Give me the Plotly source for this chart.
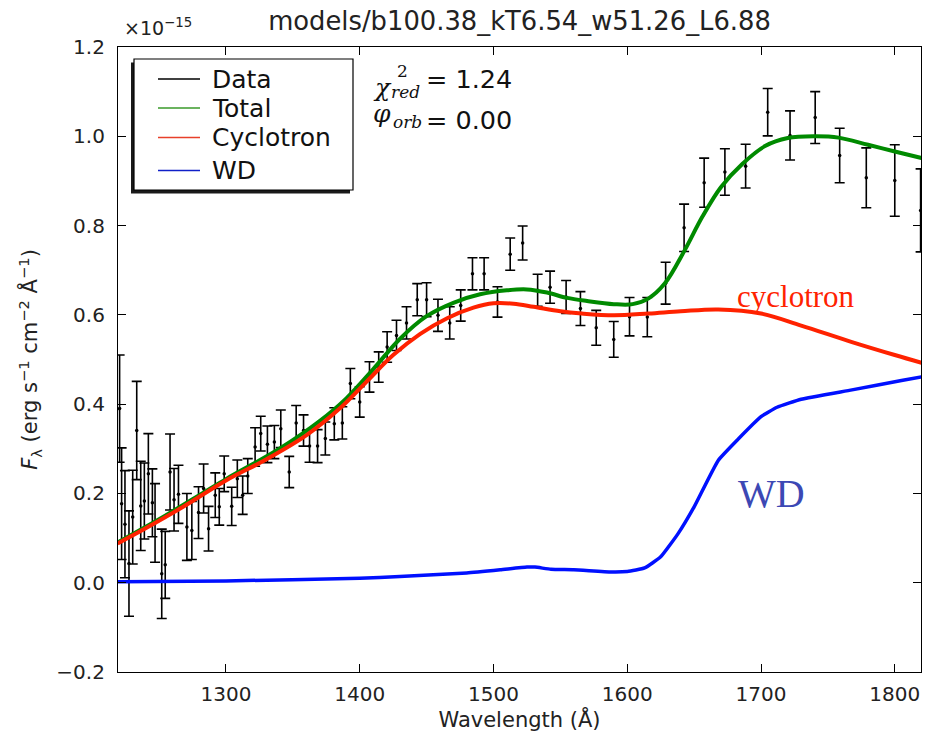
import plotly.graph_objects as go

# ---------------- data ----------------
wave = [1220.5, 1222.0, 1224.5, 1227.5, 1230.3, 1233.3, 1236.3, 1239.0, 1242.0, 1245.0,
        1247.0, 1252.0, 1254.6, 1258.2, 1261.2, 1264.5, 1270.8, 1274.5, 1279.5, 1283.3,
        1287.0, 1292.0, 1295.0, 1298.7, 1304.3, 1308.5, 1312.5, 1316.3, 1321.8, 1326.0,
        1331.0, 1336.2, 1341.0, 1347.3, 1352.5, 1358.0, 1362.5, 1368.5, 1374.3, 1381.0,
        1387.0, 1393.0, 1400.0, 1407.3, 1414.2, 1420.5, 1427.5, 1435.0, 1443.0, 1450.0,
        1458.5, 1467.3, 1475.5, 1484.3, 1493.0, 1503.0, 1512.5, 1521.8, 1533.0, 1542.3,
        1554.3, 1565.0, 1576.8, 1589.9, 1601.7, 1615.0, 1628.7, 1642.5, 1657.5, 1673.0,
        1688.5, 1705.0, 1721.7, 1740.5, 1758.8, 1778.7, 1800.0, 1819.3]
flux = [0.39, 0.177, 0.131, 0.043, 0.147, 0.341, 0.172, 0.183, 0.244, 0.179,
        0.134, 0.020, 0.040, 0.248, 0.186, 0.198, 0.125, 0.117, 0.157, 0.211,
        0.121, 0.196, 0.170, 0.244, 0.171, 0.233, 0.196, 0.239, 0.304, 0.334,
        0.310, 0.315, 0.345, 0.248, 0.358, 0.341, 0.306, 0.306, 0.323, 0.356,
        0.358, 0.446, 0.405, 0.461, 0.483, 0.528, 0.554, 0.582, 0.634, 0.634,
        0.599, 0.582, 0.621, 0.692, 0.692, 0.629, 0.736, 0.761, 0.655, 0.662,
        0.640, 0.614, 0.571, 0.545, 0.596, 0.595, 0.671, 0.795, 0.896, 0.920,
        0.933, 1.054, 1.002, 1.042, 0.957, 0.907, 0.901, 0.834]
flux_err = [0.12, 0.125, 0.12, 0.118, 0.105, 0.11, 0.10, 0.085, 0.09, 0.076,
            0.088, 0.10, 0.075, 0.085, 0.07, 0.065, 0.075, 0.065, 0.058, 0.055,
            0.05, 0.05, 0.041, 0.04, 0.043, 0.042, 0.043, 0.039, 0.043, 0.039,
            0.041, 0.037, 0.042, 0.035, 0.039, 0.035, 0.036, 0.037, 0.037, 0.036,
            0.036, 0.034, 0.034, 0.034, 0.034, 0.034, 0.034, 0.036, 0.036, 0.038,
            0.036, 0.036, 0.035, 0.036, 0.036, 0.034, 0.036, 0.038, 0.036, 0.036,
            0.037, 0.038, 0.039, 0.040, 0.043, 0.044, 0.047, 0.053, 0.055, 0.052,
            0.049, 0.053, 0.055, 0.058, 0.061, 0.067, 0.080, 0.093]

total_wave = [1219, 1250, 1300, 1340, 1370, 1390, 1410, 1430, 1450, 1470, 1490, 1510,
              1525, 1540, 1555, 1570, 1590, 1604, 1616, 1628, 1643, 1656, 1670, 1686,
              1703, 1720, 1740, 1758, 1780, 1800, 1822]
total_flux = [0.090, 0.142, 0.232, 0.300, 0.362, 0.413, 0.478, 0.546, 0.597, 0.627, 0.646, 0.655,
              0.657, 0.650, 0.638, 0.631, 0.624, 0.624, 0.637, 0.670, 0.745, 0.819, 0.886, 0.938,
              0.978, 0.996, 1.000, 0.997, 0.981, 0.966, 0.950]

cyc_wave = [1219, 1240, 1268, 1300, 1330, 1360, 1385, 1405, 1425, 1445, 1465, 1485, 1500,
            1515, 1530, 1550, 1566, 1590, 1616, 1640, 1668, 1700, 1730, 1768, 1800, 1822]
cyc_flux = [0.088, 0.122, 0.170, 0.229, 0.276, 0.330, 0.390, 0.450, 0.510, 0.557, 0.592, 0.616, 0.626,
            0.625, 0.618, 0.608, 0.603, 0.599, 0.603, 0.608, 0.612, 0.603, 0.576, 0.539, 0.510, 0.491]

wd_wave = [1219, 1300, 1400, 1430, 1480, 1505, 1525, 1531, 1543, 1560, 1588, 1600,
           1613, 1625, 1638, 1650, 1668, 1683, 1700, 1712, 1730, 1768, 1805, 1822]
wd_flux = [0.002, 0.004, 0.010, 0.014, 0.022, 0.029, 0.035, 0.035, 0.030, 0.029, 0.024, 0.025,
           0.033, 0.058, 0.110, 0.170, 0.274, 0.322, 0.372, 0.393, 0.411, 0.432, 0.453, 0.462]

legend_names = ["Data", "Total", "Cyclotron", "WD"]
legend_colors = ["black", "#3a9a2a", "#e8402a", "#1020c8"]

x_ticks = [1300, 1400, 1500, 1600, 1700, 1800]
y_ticks = [-0.2, 0.0, 0.2, 0.4, 0.6, 0.8, 1.0, 1.2]
y_tick_text = ["\u22120.2", "0.0", "0.2", "0.4", "0.6", "0.8", "1.0", "1.2"]

# ---------------- figure ----------------
W, H = 928, 732
L, R, T, B = 118, 7, 47, 60
PW, PH = W - L - R, H - T - B


def px_x(px):
    return (px - L) / PW


def px_y(py):
    return 1 - (py - T) / PH


GREEN = "#008a00"
RED = "#ff2200"
BLUE = "#0010ff"
FONT = "DejaVu Sans"

fig = go.Figure()

fig.add_trace(go.Scatter(
    x=wave, y=flux, mode="markers", name="Data", showlegend=False,
    marker=dict(color="black", size=3.5),
    error_y=dict(type="data", array=flux_err, color="black", thickness=1.6, width=5),
))
fig.add_trace(go.Scatter(x=total_wave, y=total_flux, mode="lines", name="Total", showlegend=False,
                         line=dict(color=GREEN, width=4, shape="spline", smoothing=1.0)))
fig.add_trace(go.Scatter(x=cyc_wave, y=cyc_flux, mode="lines", name="Cyclotron", showlegend=False,
                         line=dict(color=RED, width=4, shape="spline", smoothing=1.0)))
fig.add_trace(go.Scatter(x=wd_wave, y=wd_flux, mode="lines", name="WD", showlegend=False,
                         line=dict(color=BLUE, width=3.5, shape="spline", smoothing=0.4)))

axis_common = dict(showline=True, linecolor="black", linewidth=1.2, mirror="ticks",
                   ticks="inside", ticklen=8, tickwidth=1, tickcolor="black",
                   showgrid=False, zeroline=False, automargin=False,
                   tickfont=dict(family=FONT, size=20, color="#222"))

fig.update_layout(
    width=W, height=H,
    margin=dict(l=L, r=R, t=T, b=B, autoexpand=False),
    paper_bgcolor="white", plot_bgcolor="white",
    font=dict(family=FONT, color="#222"),
    showlegend=False,
    title=dict(text="models/b100.38_kT6.54_w51.26_L6.88", x=0.5, xref="paper",
               xanchor="center", y=1 - 21 / H, yref="container", yanchor="middle",
               font=dict(family=FONT, size=25.8, color="#222")),
    xaxis=dict(range=[1219.3, 1819.6], tickvals=x_ticks, ticklabelstandoff=4,
               title=dict(text="Wavelength (Å)", font=dict(family=FONT, size=21, color="#222"),
                          standoff=12),
               **axis_common),
    yaxis=dict(range=[-0.2, 1.2], tickvals=y_ticks, ticktext=y_tick_text, ticklabelstandoff=8,
               title=dict(text="<i>F</i><sub>λ</sub> (erg s<sup>−1</sup> cm<sup>−2</sup> Å<sup>−1</sup>)",
                          font=dict(family=FONT, size=21, color="#222"), standoff=12),
               **axis_common),
)

# ---- legend box (matplotlib-style with shadow) ----
shapes = []
shapes.append(dict(type="rect", xref="paper", yref="paper",
                   x0=px_x(131), x1=px_x(350), y0=px_y(193.5), y1=px_y(62.5),
                   fillcolor="#1a1a1a", line=dict(width=0), layer="above"))
shapes.append(dict(type="rect", xref="paper", yref="paper",
                   x0=px_x(134), x1=px_x(353), y0=px_y(190), y1=px_y(59),
                   fillcolor="white", line=dict(color="black", width=1.2), layer="above"))
legend_rows = [79, 108, 137.5, 170.5]
ann = []
for name, col, row in zip(legend_names, legend_colors, legend_rows):
    shapes.append(dict(type="line", xref="paper", yref="paper",
                       x0=px_x(158), x1=px_x(200), y0=px_y(row), y1=px_y(row),
                       line=dict(color=col, width=1.4), layer="above"))
    ann.append(dict(text=name, x=px_x(210), y=px_y(row), xref="paper", yref="paper",
                    xanchor="left", yanchor="middle", showarrow=False,
                    font=dict(family=FONT, size=25, color="#111")))
fig.update_layout(shapes=shapes)

# offset text
ann.append(dict(text="×10<sup>−15</sup>", x=px_x(122), y=px_y(27), xref="paper", yref="paper",
                xanchor="left", yanchor="middle", showarrow=False,
                font=dict(family=FONT, size=19, color="#222")))
# chi^2_red
ann.append(dict(text="<i>χ</i>", x=px_x(371), y=px_y(87), xref="paper", yref="paper",
                xanchor="left", yanchor="middle", showarrow=False,
                font=dict(family="DejaVu Serif", size=25, color="#111")))
ann.append(dict(text="2", x=px_x(395), y=px_y(71), xref="paper", yref="paper",
                xanchor="left", yanchor="middle", showarrow=False,
                font=dict(family="DejaVu Serif", size=17, color="#111")))
ann.append(dict(text="<i>red</i>", x=px_x(389), y=px_y(92), xref="paper", yref="paper",
                xanchor="left", yanchor="middle", showarrow=False,
                font=dict(family="DejaVu Serif", size=17, color="#111")))
ann.append(dict(text="= 1.24", x=px_x(424), y=px_y(79), xref="paper", yref="paper",
                xanchor="left", yanchor="middle", showarrow=False,
                font=dict(family=FONT, size=25.5, color="#111")))
# phi_orb
ann.append(dict(text="<i>φ</i>", x=px_x(371), y=px_y(113), xref="paper", yref="paper",
                xanchor="left", yanchor="middle", showarrow=False,
                font=dict(family="DejaVu Serif", size=25, color="#111")))
ann.append(dict(text="<i>orb</i>", x=px_x(391), y=px_y(122), xref="paper", yref="paper",
                xanchor="left", yanchor="middle", showarrow=False,
                font=dict(family="DejaVu Serif", size=17, color="#111")))
ann.append(dict(text="= 0.00", x=px_x(424), y=px_y(120), xref="paper", yref="paper",
                xanchor="left", yanchor="middle", showarrow=False,
                font=dict(family=FONT, size=25.5, color="#111")))
# curve labels
ann.append(dict(text="cyclotron", x=1726.5, y=0.642, xref="x", yref="y",
                xanchor="center", yanchor="middle", showarrow=False,
                font=dict(family="Liberation Serif", size=31, color=RED)))
ann.append(dict(text="WD", x=1708, y=0.200, xref="x", yref="y",
                xanchor="center", yanchor="middle", showarrow=False,
                font=dict(family="Liberation Serif", size=40, color="#3c48b4")))

fig.update_layout(annotations=ann)

fig.write_html("out.html")
